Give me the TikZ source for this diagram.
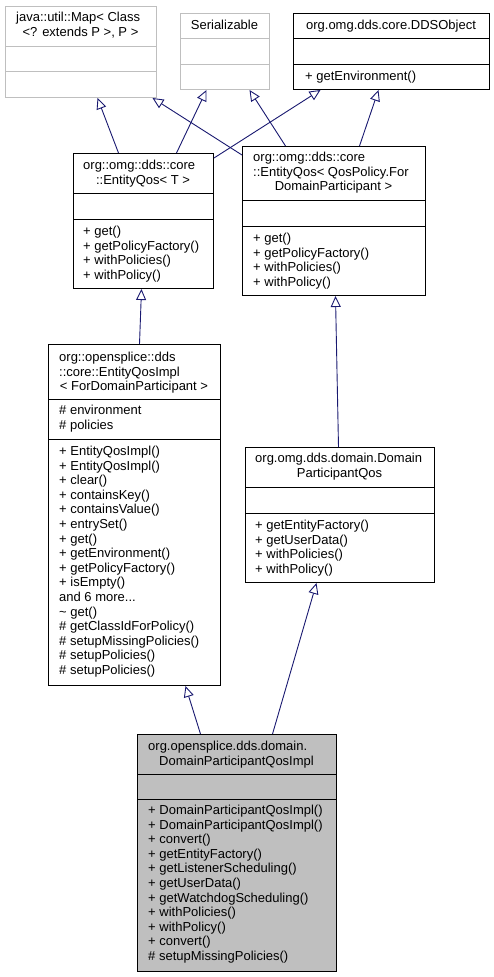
\documentclass[tikz,border=0pt]{standalone}
\usepackage{fontspec}
\setmainfont{Liberation Sans}
\usepackage{tikz}
\usetikzlibrary{positioning, arrows.meta}

\definecolor{edgeblue}{HTML}{191970}
\definecolor{greybox}{HTML}{BFBFBF}
\newcommand\moredots{...}

\tikzset{
  cls/.style={draw=black, line width=1pt, rectangle, inner sep=0pt, anchor=north west},
  ghost/.style={cls, draw=greybox},
  mem/.style={anchor=base west, inner sep=0pt, font=\fontsize{13}{14.6}\selectfont},
  ttl/.style={anchor=base, inner sep=0pt, font=\fontsize{13}{14.6}\selectfont},
  inh/.style={draw=edgeblue, line width=0.9pt, -{Triangle[open, length=11pt, width=10pt]}},
}

\begin{document}
\begin{tikzpicture}[x=1pt, y=1pt]
\useasboundingbox (0,0) rectangle (494,-977);

% parents
\node (map) [ghost, minimum width=151, minimum height=91] at (5,-6) {};
\draw [greybox, line width=1pt] ([yshift=-40]map.north west) -- ([yshift=-40]map.north east)
  ([yshift=-65]map.north west) -- ([yshift=-65]map.north east);
\node (map-t0) [mem] at (16,-21.5) {java::util::Map< Class};
\node (map-t1) [ttl] at (80.5,-36.5) {<? extends P >, P >};

\node (ser) [ghost, minimum width=89, minimum height=76] at (180,-13) {};
\draw [greybox, line width=1pt] ([yshift=-25]ser.north west) -- ([yshift=-25]ser.north east)
  ([yshift=-51]ser.north west) -- ([yshift=-51]ser.north east);
\node (ser-t0) [ttl] at (224.5,-29.5) {Serializable};

\node (dds) [cls, minimum width=196, minimum height=76] at (293,-13) {};
\draw ([yshift=-25]dds.north west) -- ([yshift=-25]dds.north east)
  ([yshift=-51]dds.north west) -- ([yshift=-51]dds.north east);
\node (dds-t0) [ttl] at (391,-29.5) {org.omg.dds.core.DDSObject};
\node (dds-m0) [mem] at (305,-80.5) {+ getEnvironment()};

% EntityQos< T >
\node (eqt) [cls, minimum width=140, minimum height=135] at (73,-153) {};
\draw ([yshift=-40]eqt.north west) -- ([yshift=-40]eqt.north east)
  ([yshift=-66]eqt.north west) -- ([yshift=-66]eqt.north east);
\node (eqt-t0) [mem] at (83,-169.5) {org::omg::dds::core};
\node (eqt-t1) [ttl] at (143,-184.5) {::EntityQos< T >};
\foreach \t [count=\i from 0] in {{+ get()},{+ getPolicyFactory()},{+ withPolicies()},{+ withPolicy()}}
  \node (eqt-m\i) [mem] at (83,{-235.5-14.5*\i}) {\t};

% EntityQos< QosPolicy.ForDomainParticipant >
\node (eqp) [cls, minimum width=183, minimum height=149] at (242,-146) {};
\draw ([yshift=-54]eqp.north west) -- ([yshift=-54]eqp.north east)
  ([yshift=-80]eqp.north west) -- ([yshift=-80]eqp.north east);
\node (eqp-t0) [mem] at (253,-161.5) {org::omg::dds::core};
\node (eqp-t1) [mem] at (253,-176) {::EntityQos< QosPolicy.For};
\node (eqp-t2) [ttl] at (333.5,-190.5) {DomainParticipant >};
\foreach \t [count=\i from 0] in {{+ get()},{+ getPolicyFactory()},{+ withPolicies()},{+ withPolicy()}}
  \node (eqp-m\i) [mem] at (253,{-242.5-14.5*\i}) {\t};

% EntityQosImpl
\node (impl) [cls, minimum width=172, minimum height=341] at (48,-344) {};
\draw ([yshift=-55]impl.north west) -- ([yshift=-55]impl.north east)
  ([yshift=-95]impl.north west) -- ([yshift=-95]impl.north east);
\node (impl-t0) [mem] at (59,-361.5) {org::opensplice::dds};
\node (impl-t1) [mem] at (59,-376) {::core::EntityQosImpl};
\node (impl-t2) [ttl] at (134,-390.5) {< ForDomainParticipant >};
\node (impl-a0) [mem] at (59,-414.5) {\# environment};
\node (impl-a1) [mem] at (59,-429) {\# policies};
\foreach \t [count=\i from 0] in {{+ EntityQosImpl()},{+ EntityQosImpl()},{+ clear()},
    {+ containsKey()},{+ containsValue()},{+ entrySet()},{+ get()},{+ getEnvironment()},
    {+ getPolicyFactory()},{+ isEmpty()},{and 6 more\moredots},{\textasciitilde\ get()},
    {\# getClassIdForPolicy()},{\# setupMissingPolicies()},{\# setupPolicies()},{\# setupPolicies()}}
  \node (impl-m\i) [mem] at (59,{-455.5-14.6*\i}) {\t};

% DomainParticipantQos
\node (dpq) [cls, minimum width=189, minimum height=135] at (245,-447) {};
\draw ([yshift=-40]dpq.north west) -- ([yshift=-40]dpq.north east)
  ([yshift=-66]dpq.north west) -- ([yshift=-66]dpq.north east);
\node (dpq-t0) [mem] at (255,-462.5) {org.omg.dds.domain.Domain};
\node (dpq-t1) [ttl] at (339.5,-477) {ParticipantQos};
\foreach \t [count=\i from 0] in {{+ getEntityFactory()},{+ getUserData()},{+ withPolicies()},{+ withPolicy()}}
  \node (dpq-m\i) [mem] at (255,{-529.5-14.6*\i}) {\t};

% DomainParticipantQosImpl
\node (dpqi) [cls, fill=greybox, minimum width=199, minimum height=237] at (137,-734) {};
\draw ([yshift=-40]dpqi.north west) -- ([yshift=-40]dpqi.north east)
  ([yshift=-65]dpqi.north west) -- ([yshift=-65]dpqi.north east);
\node (dpqi-t0) [mem] at (148,-750.5) {org.opensplice.dds.domain.};
\node (dpqi-t1) [ttl] at (236.5,-765) {DomainParticipantQosImpl};
\foreach \t [count=\i from 0] in {{+ DomainParticipantQosImpl()},{+ DomainParticipantQosImpl()},
    {+ convert()},{+ getEntityFactory()},{+ getListenerScheduling()},{+ getUserData()},
    {+ getWatchdogScheduling()},{+ withPolicies()},{+ withPolicy()},{+ convert()},
    {\# setupMissingPolicies()}}
  \node (dpqi-m\i) [mem] at (148,{-814.5-14.6*\i}) {\t};

% inheritance
\draw [inh] ([xshift=-25]eqt.north) -- ([xshift=16.5]map.south);
\draw [inh] ([xshift=33]eqt.north) -- ([xshift=-18.5]ser.south);
\draw [inh] ([yshift=-5]eqt.north east) -- ([xshift=-71]dds.south);
\draw [inh] ([yshift=-9]eqp.north west) -- ([xshift=71.5]map.south);
\draw [inh] ([xshift=-48.5]eqp.north) -- ([xshift=24.5]ser.south);
\draw [inh] ([xshift=25.5]eqp.north) -- ([xshift=-13]dds.south);
\draw [inh] ([xshift=5]impl.north) -- ([xshift=-2]eqt.south);
\draw [inh] ([xshift=-1.5]dpq.north) -- ([xshift=1.5]eqp.south);
\draw [inh] ([xshift=-36.5]dpqi.north) -- ([xshift=51]impl.south);
\draw [inh] ([xshift=35.5]dpqi.north) -- ([xshift=-23.5]dpq.south);
\end{tikzpicture}
\end{document}
